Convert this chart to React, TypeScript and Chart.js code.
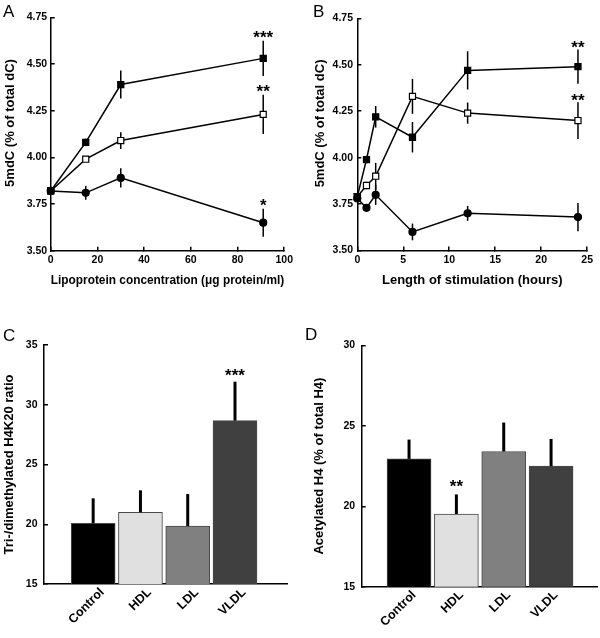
import React, { useEffect, useRef } from "react";
import { Chart, registerables } from "chart.js";

Chart.register(...registerables);

const FONT = "'Liberation Sans', Arial, Helvetica, sans-serif";

// ---------- Panel A: 5mdC vs lipoprotein concentration ----------
const concentrationA = [0, 15, 30, 91];
const circleA = [3.82, 3.81, 3.89, 3.65];
const circleErrA = [0, 0.037, 0.052, 0.075];
const circleStarsA = ["", "", "", "*"];
const filledSquareA = [3.82, 4.08, 4.39, 4.53];
const filledSquareErrA = [0, 0.02, 0.075, 0.095];
const filledSquareStarsA = ["", "", "", "***"];
const openSquareA = [3.82, 3.99, 4.09, 4.23];
const openSquareErrA = [0, 0.015, 0.045, 0.105];
const openSquareStarsA = ["", "", "", "**"];
const xTicksA = [0, 20, 40, 60, 80, 100];
const yTicksAB = [3.5, 3.75, 4.0, 4.25, 4.5, 4.75];

// ---------- Panel B: 5mdC vs length of stimulation ----------
const hoursB = [0, 1, 2, 6, 12, 24];
const circleB = [3.78, 3.73, 3.8, 3.6, 3.7, 3.68];
const circleErrB = [0.02, 0.02, 0.054, 0.045, 0.04, 0.076];
const circleStarsB = ["", "", "", "", "", ""];
const filledSquareB = [3.79, 3.99, 4.22, 4.11, 4.47, 4.49];
const filledSquareErrB = [0.02, 0.02, 0.058, 0.082, 0.103, 0.092];
const filledSquareStarsB = ["", "", "", "", "", "**"];
const openSquareB = [3.79, 3.85, 3.9, 4.33, 4.24, 4.2];
const openSquareErrB = [0.02, 0.02, 0.072, 0.094, 0.057, 0.099];
const openSquareStarsB = ["", "", "", "", "", "**"];
const xTicksB = [0, 5, 10, 15, 20, 25];

// ---------- Panel C / D: bars ----------
const categories = ["Control", "HDL", "LDL", "VLDL"];
const ratioC = [20.08, 21.0, 19.85, 28.67];
const ratioErrC = [2.09, 1.84, 2.68, 3.26];
const starsC = ["", "", "", "***"];
const yTicksC = [15, 20, 25, 30, 35];

const acetylD = [22.95, 19.52, 23.41, 22.5];
const acetylErrD = [1.2, 1.22, 1.8, 1.69];
const starsD = ["", "**", "", ""];
const yTicksD = [15, 20, 25, 30];

const barColors = ["#000000", "#e0e0e0", "#808080", "#404040"];

// ---------- shared styling ----------
const tickFont = { family: FONT, size: 10.5, weight: "bold" as const };
const catFont = { family: FONT, size: 12.5, weight: "bold" as const };
const titleFont = { family: FONT, size: 13, weight: "bold" as const };

function yScale(o: any) {
  return {
    type: "linear",
    min: o.min,
    max: o.max,
    afterBuildTicks: (s: any) => {
      s.ticks = o.ticks.map((v: number) => ({ value: v }));
    },
    afterFit: (s: any) => {
      s.width = o.width;
    },
    grid: { drawOnChartArea: false, drawTicks: true, tickLength: -4, color: "#000", lineWidth: 1.5 },
    border: { display: true, color: "#000", width: 1.5 },
    ticks: { font: tickFont, color: "#000", padding: o.labelPad, callback: o.fmt },
    title: {
      display: !o.manualTitle,
      text: o.title,
      font: titleFont,
      color: "#000",
      padding: { top: o.titlePad, bottom: 0 },
    },
  };
}

function xLinearScale(o: any) {
  return {
    type: "linear",
    position: "bottom",
    offset: false,
    min: o.min,
    max: o.max,
    afterBuildTicks: (s: any) => {
      s.ticks = o.ticks.map((v: number) => ({ value: v }));
    },
    afterFit: (s: any) => {
      s.height = o.height;
    },
    grid: { offset: false, drawOnChartArea: false, drawTicks: true, tickLength: -4, color: "#000", lineWidth: 1.5 },
    border: { display: true, color: "#000", width: 1.5 },
    ticks: { font: tickFont, color: "#000", padding: 7, maxRotation: 0, minRotation: 0, autoSkip: false },
    title: {
      display: true,
      text: o.title,
      font: titleFont,
      color: "#000",
      padding: { top: 0, bottom: o.titleBottom },
    },
  };
}

function lineDs(xs: number[], ys: number[], style: string, filled: boolean, radius: number) {
  return {
    data: xs.map((x, i) => ({ x, y: ys[i] })),
    borderColor: "#000",
    borderWidth: 1.5,
    pointStyle: style,
    pointRadius: radius,
    pointBackgroundColor: filled ? "#000" : "#fff",
    pointBorderColor: "#000",
    pointBorderWidth: 1.2,
    tension: 0,
    fill: false,
    clip: false,
  };
}

function drawLetter(ctx: CanvasRenderingContext2D, letter: string, x: number, y: number) {
  ctx.save();
  ctx.font = `17px ${FONT}`;
  ctx.fillStyle = "#000";
  ctx.textAlign = "left";
  ctx.textBaseline = "alphabetic";
  ctx.fillText(letter, x, y);
  ctx.restore();
}

function drawStars(ctx: CanvasRenderingContext2D, text: string, x: number, centerY: number) {
  ctx.save();
  ctx.font = `bold 17px ${FONT}`;
  ctx.fillStyle = "#000";
  ctx.textAlign = "center";
  ctx.textBaseline = "alphabetic";
  ctx.fillText(text, x, centerY + 9.5);
  ctx.restore();
}

function drawYTitle(ctx: CanvasRenderingContext2D, text: string, cx: number, cy: number) {
  ctx.save();
  ctx.translate(cx, cy);
  ctx.rotate(-Math.PI / 2);
  ctx.font = `bold 13px ${FONT}`;
  ctx.fillStyle = "#000";
  ctx.textAlign = "center";
  ctx.textBaseline = "middle";
  ctx.fillText(text, 0, 0);
  ctx.restore();
}

function linePlugin(o: any) {
  const { errs, stars, starGap, letter, lx, ly, yTitle, yTitleX, yTitleShift } = o;
  return {
    id: "lineAnnotations",
    beforeDatasetsDraw(chart: any) {
      const { ctx } = chart;
      const xs = chart.scales.x;
      const ys = chart.scales.y;
      ctx.save();
      ctx.strokeStyle = "#000";
      ctx.lineWidth = 1.5;
      chart.data.datasets.forEach((ds: any, di: number) => {
        ds.data.forEach((p: any, i: number) => {
          const e = errs[di][i];
          if (!e) return;
          const x = xs.getPixelForValue(p.x);
          ctx.beginPath();
          ctx.moveTo(x, ys.getPixelForValue(p.y - e));
          ctx.lineTo(x, ys.getPixelForValue(p.y + e));
          ctx.stroke();
        });
      });
      ctx.restore();
    },
    afterDatasetsDraw(chart: any) {
      const xs = chart.scales.x;
      const ys = chart.scales.y;
      chart.data.datasets.forEach((ds: any, di: number) => {
        ds.data.forEach((p: any, i: number) => {
          const s = stars[di][i];
          if (!s) return;
          const top = ys.getPixelForValue(p.y + errs[di][i]);
          drawStars(chart.ctx, s, xs.getPixelForValue(p.x), top - starGap);
        });
      });
    },
    afterDraw(chart: any) {
      drawLetter(chart.ctx, letter, lx, ly);
      const ys = chart.scales.y;
      drawYTitle(chart.ctx, yTitle, yTitleX, (ys.top + ys.bottom) / 2 + yTitleShift);
    },
  };
}

function barPlugin(values: number[], errs: number[], stars: string[], starGap: number, letter: string, lx: number, ly: number) {
  return {
    id: "barAnnotations",
    afterDatasetsDraw(chart: any) {
      const { ctx } = chart;
      const xs = chart.scales.x;
      const ys = chart.scales.y;
      ctx.save();
      ctx.strokeStyle = "#000";
      ctx.lineWidth = 3;
      values.forEach((v, i) => {
        const x = xs.getPixelForValue(i + 1);
        const y1 = ys.getPixelForValue(v);
        const y2 = ys.getPixelForValue(v + errs[i]);
        ctx.beginPath();
        ctx.moveTo(x, y1);
        ctx.lineTo(x, y2);
        ctx.stroke();
        if (stars[i]) drawStars(ctx, stars[i], x, y2 - starGap);
      });
      ctx.restore();
    },
    afterDraw(chart: any) {
      drawLetter(chart.ctx, letter, lx, ly);
    },
  };
}

const fmt2 = (v: any) => Number(v).toFixed(2);
const fmt0 = (v: any) => String(v);

const yTitleAB = "5mdC (% of total dC)";

function lineConfig(o: any) {
  return {
    type: "line",
    data: {
      datasets: [
        lineDs(o.x, o.circle, "circle", true, 3.5),
        lineDs(o.x, o.filled, "rect", true, 4.3),
        lineDs(o.x, o.open, "rect", false, 4.3),
      ],
    },
    options: {
      responsive: false,
      animation: false,
      devicePixelRatio: 1,
      layout: { padding: { left: 0, top: o.padTop, right: o.padRight, bottom: 0 } },
      plugins: { legend: { display: false }, tooltip: { enabled: false } },
      scales: {
        x: xLinearScale({ min: o.xMin, max: o.xMax, ticks: o.xTicks, height: o.xHeight, title: o.xTitle, titleBottom: 31 }),
        y: yScale({ min: 3.5, max: 4.75, ticks: yTicksAB, width: o.yWidth, labelPad: o.labelPad, fmt: fmt2, title: yTitleAB, titlePad: 0, manualTitle: true }),
      },
    },
    plugins: [
      linePlugin({
        errs: o.errs,
        stars: o.stars,
        starGap: o.starGap,
        letter: o.letter,
        lx: o.lx,
        ly: o.ly,
        yTitle: yTitleAB,
        yTitleX: o.yTitleX,
        yTitleShift: -11,
      }),
    ],
  };
}

function barConfig(o: any) {
  return {
    type: "bar",
    data: {
      datasets: [
        {
          data: o.values.map((v: number, i: number) => ({ x: i + 1, y: v })),
          backgroundColor: barColors,
          borderColor: "#4a4a4a",
          borderWidth: 1,
          borderSkipped: "bottom",
          barThickness: 44,
        },
      ],
    },
    options: {
      responsive: false,
      animation: false,
      devicePixelRatio: 1,
      layout: { padding: { left: 0, top: o.padTop, right: o.padRight, bottom: 0 } },
      plugins: { legend: { display: false }, tooltip: { enabled: false } },
      scales: {
        x: {
          type: "linear",
          position: "bottom",
          offset: false,
          min: o.xMin,
          max: o.xMax,
          afterBuildTicks: (s: any) => {
            s.ticks = categories.map((_, i) => ({ value: i + 1 }));
          },
          afterFit: (s: any) => {
            s.height = o.xHeight;
          },
          grid: { offset: false, drawOnChartArea: false, drawTicks: false },
          border: { display: true, color: "#000", width: 1.5 },
          ticks: {
            font: catFont,
            color: "#000",
            padding: 1,
            minRotation: 45,
            maxRotation: 45,
            autoSkip: false,
            labelOffset: o.labelOffset,
            callback: (v: any) => categories[Number(v) - 1] ?? "",
          },
        },
        y: yScale({ min: o.yMin, max: o.yMax, ticks: o.yTicks, width: o.yWidth, labelPad: o.labelPad, fmt: fmt0, title: o.yTitle, titlePad: o.titlePad }),
      },
    },
    plugins: [barPlugin(o.values, o.errs, o.stars, o.starGap, o.letter, o.lx, o.ly)],
  };
}

function Panel({ config, left, top, width, height }: any) {
  const ref = useRef<HTMLCanvasElement>(null);
  useEffect(() => {
    const chart = new Chart(ref.current as HTMLCanvasElement, config);
    return () => chart.destroy();
  }, []);
  return (
    <canvas
      ref={ref}
      width={width}
      height={height}
      style={{ position: "absolute", left, top, width, height, display: "block" }}
    />
  );
}

export default function App() {
  const cfgA = lineConfig({
    x: concentrationA,
    circle: circleA,
    filled: filledSquareA,
    open: openSquareA,
    errs: [circleErrA, filledSquareErrA, openSquareErrA],
    stars: [circleStarsA, filledSquareStarsA, openSquareStarsA],
    starGap: 7,
    xMin: 0,
    xMax: 100,
    xTicks: xTicksA,
    xTitle: "Lipoprotein concentration (μg protein/ml)",
    padTop: 17.3,
    padRight: 15.7,
    xHeight: 68.3,
    yWidth: 50.7,
    labelPad: 7.5,
    yTitleX: 10,
    letter: "A",
    lx: 3,
    ly: 17,
  });
  const cfgB = lineConfig({
    x: hoursB,
    circle: circleB,
    filled: filledSquareB,
    open: openSquareB,
    errs: [circleErrB, filledSquareErrB, openSquareErrB],
    stars: [circleStarsB, filledSquareStarsB, openSquareStarsB],
    starGap: 6,
    xMin: 0,
    xMax: 25,
    xTicks: xTicksB,
    xTitle: "Length of stimulation (hours)",
    padTop: 18.4,
    padRight: 9.3,
    xHeight: 68.5,
    yWidth: 57.3,
    labelPad: 8.3,
    yTitleX: 20,
    letter: "B",
    lx: 13,
    ly: 17,
  });
  const cfgC = barConfig({
    values: ratioC,
    errs: ratioErrC,
    stars: starsC,
    starGap: 10,
    xMin: -0.04,
    xMax: 5.1,
    yMin: 15,
    yMax: 35,
    yTicks: yTicksC,
    yTitle: "Tri-/dimethylated H4K20 ratio",
    padTop: 26,
    padRight: 13,
    xHeight: 54,
    yWidth: 44,
    labelPad: 10.5,
    titlePad: 2,
    labelOffset: 9,
    letter: "C",
    lx: 3,
    ly: 21.5,
  });
  const cfgD = barConfig({
    values: acetylD,
    errs: acetylErrD,
    stars: starsD,
    starGap: 12,
    xMin: 0,
    xMax: 4.97,
    yMin: 15,
    yMax: 30,
    yTicks: yTicksD,
    yTitle: "Acetylated H4 (% of total H4)",
    padTop: 26.5,
    padRight: 3,
    xHeight: 51.3,
    yWidth: 61.7,
    labelPad: 10.5,
    titlePad: 12,
    labelOffset: 5,
    letter: "D",
    lx: 5,
    ly: 21,
  });

  return (
    <div style={{ position: "fixed", left: 0, top: 0, width: 600, height: 638, background: "#fff", overflow: "hidden" }}>
      <Panel config={cfgA} left={0} top={0} width={300} height={319} />
      <Panel config={cfgB} left={300} top={0} width={300} height={319} />
      <Panel config={cfgC} left={0} top={319} width={300} height={319} />
      <Panel config={cfgD} left={300} top={319} width={300} height={319} />
    </div>
  );
}
